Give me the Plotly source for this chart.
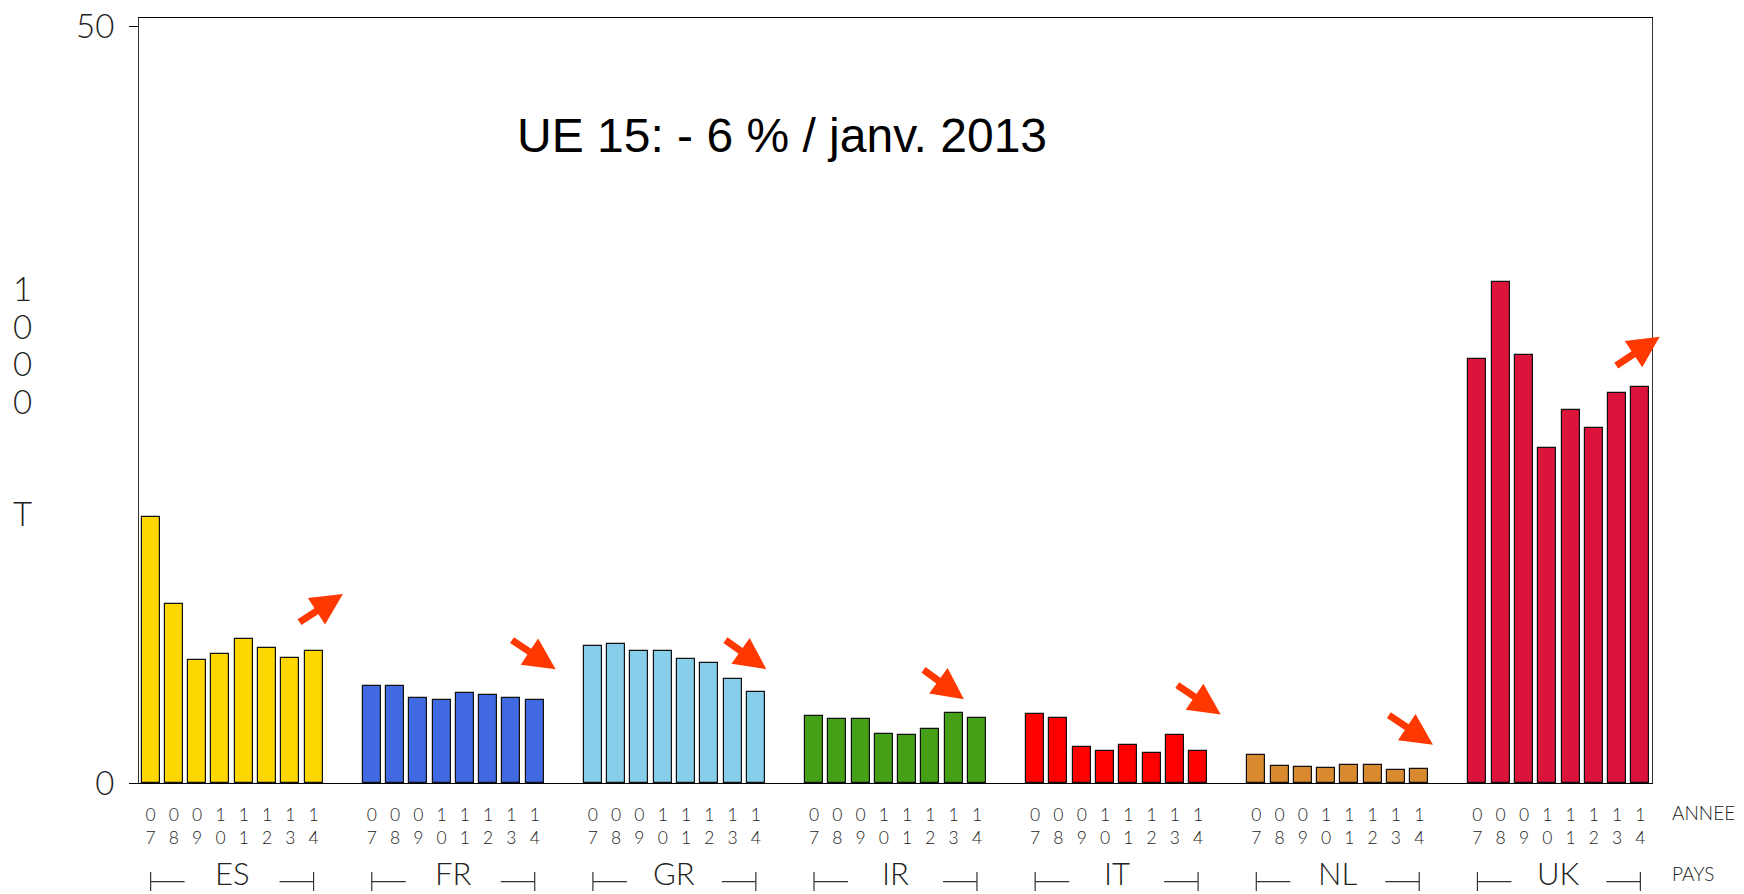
import plotly.graph_objects as go

countries = ["ES", "FR", "GR", "IR", "IT", "NL", "UK"]
years = ["07", "08", "09", "10", "11", "12", "13", "14"]
es = [17.6, 11.8, 8.14, 8.55, 9.5, 8.95, 8.27, 8.69]
fr = [6.42, 6.42, 5.63, 5.45, 5.94, 5.83, 5.63, 5.48]
gr = [9.06, 9.17, 8.75, 8.71, 8.22, 7.94, 6.9, 5.98]
ir = [4.4, 4.26, 4.2, 3.23, 3.17, 3.54, 4.6, 4.31]
it = [4.59, 4.31, 2.38, 2.09, 2.48, 2.0, 3.14, 2.13]
nl = [1.87, 1.12, 1.06, 0.99, 1.16, 1.16, 0.88, 0.94]
uk = [28.03, 33.07, 28.25, 22.15, 24.64, 23.45, 25.78, 26.14]
series = [es, fr, gr, ir, it, nl, uk]
colors = ["#FFD700", "#4169E1", "#87CEEB", "#45A018", "#FF0000", "#D98A2E", "#DC143C"]

# arrows (tail x, tail y, tip x, tip y) in axis units
arrows = [
    (6.33, 10.56, 8.26, 12.48),
    (15.46, 9.5, 17.4, 7.52),
    (24.63, 9.5, 26.45, 7.52),
    (33.14, 7.54, 34.94, 5.54),
    (44.04, 6.53, 45.97, 4.53),
    (53.13, 4.55, 55.09, 2.53),
    (62.9, 27.5, 64.83, 29.48),
]
title_text = "UE 15: - 6 % / janv. 2013"
ytitle_chars = ["1", "0", "0", "0", "", "", "T"]

GROUP_STEP = 9.5
THIN = dict(family="Lato, Roboto, DejaVu Sans", weight=300, color="#222")

fig = go.Figure()
tickvals, ticktext = [], []
for g, (c, vals, col) in enumerate(zip(countries, series, colors)):
    xs = [g * GROUP_STEP + i for i in range(len(years))]
    tickvals += xs
    ticktext += [f"{y[0]}<br>{y[1]}" for y in years]
    fig.add_trace(go.Bar(x=xs, y=vals, width=0.774, name=c,
                         marker=dict(color=col, line=dict(color="#111", width=1.2)),
                         showlegend=False))

W, H = 1744, 894
ml, mr, mt, mb = 139, 92, 18, 111
fig.update_layout(
    width=W, height=H, margin=dict(l=ml, r=mr, t=mt, b=mb, autoexpand=False),
    plot_bgcolor="white", paper_bgcolor="white",
    bargap=0,
)
fig.update_xaxes(range=[-0.5, 64.5], tickvals=tickvals, ticktext=ticktext,
                 tickfont=dict(size=17.5, **THIN), ticks="", showgrid=False,
                 showline=True, linecolor="black", linewidth=1.2, mirror=True,
                 zeroline=False, ticklabelstandoff=16, automargin=False)
fig.update_yaxes(range=[0, 50.53], tickvals=[0, 50], ticktext=["0", "50"],
                 tickfont=dict(size=33, **THIN), ticks="outside", ticklen=9,
                 tickcolor="black", showgrid=False, showline=True,
                 linecolor="#333", linewidth=1.2, mirror=True, zeroline=False,
                 ticklabelstandoff=8, automargin=False)

plot_h = H - mt - mb
def py(px):
    return (H - mb - px) / plot_h
plot_w = W - ml - mr
def pxp(px):
    return (px - ml) / plot_w

ann = []
for (x0, y0, x1, y1) in arrows:
    ann.append(dict(x=x1, y=y1, ax=x0, ay=y0, xref="x", yref="y", axref="x", ayref="y",
                    text="", showarrow=True, arrowhead=2, arrowsize=0.9, arrowwidth=7,
                    arrowcolor="#FF3800", standoff=0))
ann.append(dict(x=pxp(782), y=py(135), xref="paper", yref="paper", text=title_text,
                showarrow=False, font=dict(family="Liberation Sans, Arial", size=48, color="black"),
                xanchor="center", yanchor="middle"))
ychar_y = [288, 325.5, 363, 401, 438, 475, 513]
for ch, yy in zip(ytitle_chars, ychar_y):
    if ch:
        ann.append(dict(x=pxp(22), y=py(yy), xref="paper", yref="paper", text=ch,
                        showarrow=False, font=dict(size=33, **THIN),
                        xanchor="center", yanchor="middle"))
ann.append(dict(x=pxp(1670), y=py(812), xref="paper", yref="paper", text="ANNEE",
                showarrow=False, font=dict(size=19, **THIN), xanchor="left", yanchor="middle"))
ann.append(dict(x=pxp(1670), y=py(873), xref="paper", yref="paper", text="PAYS",
                showarrow=False, font=dict(size=19, **THIN), xanchor="left", yanchor="middle"))

shapes = []
yb = py(881.7)
yt0, yt1 = py(872), py(891)
seg = 1.46
n = len(years) - 1
for g, c in enumerate(countries):
    x0 = g * GROUP_STEP
    x1 = x0 + n
    ann.append(dict(x=x0 + n / 2, y=py(893), xref="x", yref="paper", text=c,
                    showarrow=False, font=dict(size=31, **THIN), borderpad=0,
                    xanchor="center", yanchor="bottom"))
    for a, b in [(x0, x0 + seg), (x1 - seg, x1)]:
        shapes.append(dict(type="line", xref="x", yref="paper", x0=a, x1=b, y0=yb, y1=yb,
                           line=dict(color="#333", width=1.2)))
    for xv in (x0, x1):
        shapes.append(dict(type="line", xref="x", yref="paper", x0=xv, x1=xv, y0=yt0, y1=yt1,
                           line=dict(color="#333", width=1.2)))

fig.update_layout(annotations=ann, shapes=shapes)
fig.write_html("out.html", config={"displayModeBar": False},
               post_script="document.body.style.margin='0px';document.body.style.overflow='hidden';")
